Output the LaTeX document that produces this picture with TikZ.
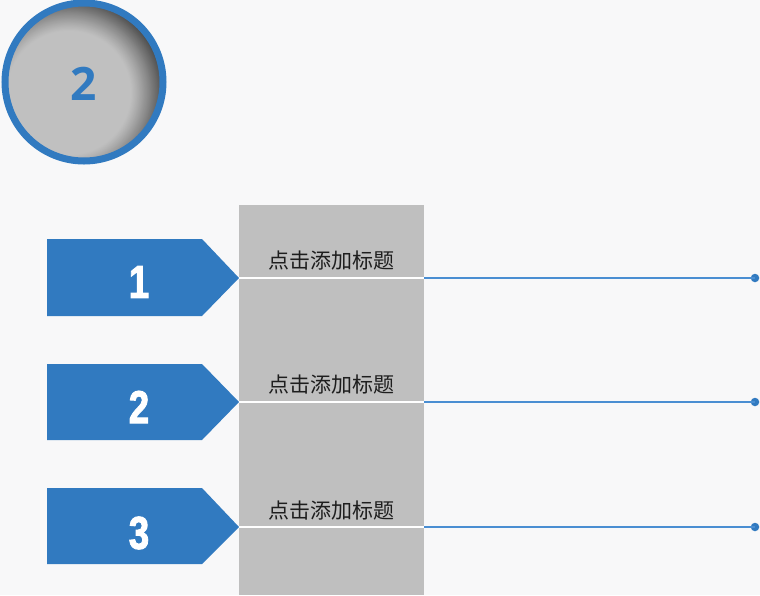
\documentclass[tikz,border=0pt]{standalone}
\usepackage{fontspec}
\setmainfont{Liberation Sans}
\newfontfamily\cjk{Noto Sans CJK SC}
\newfontfamily\numfont{Liberation Sans Bold}[FakeBold=2.2]
\newfontfamily\circfont{Open Sans}
\definecolor{bgc}{RGB}{248,248,249}
\definecolor{mainblue}{RGB}{49,122,192}
\definecolor{lineblue}{RGB}{74,142,210}
\definecolor{colgray}{RGB}{191,191,191}
\definecolor{ballgray}{RGB}{192,192,192}
\definecolor{shadowc}{RGB}{78,78,78}
\definecolor{txtc}{RGB}{30,30,30}
\tikzset{
  arrowbox/.style={fill=mainblue, draw=none},
  numlabel/.style={text=white, font=\numfont\fontsize{46}{46}\selectfont, inner sep=0pt},
  titlelabel/.style={text=txtc, font=\cjk\fontsize{21}{21}\selectfont, inner sep=0pt},
  sepline/.style={draw=white, line width=1.3pt},
  leadline/.style={draw=lineblue, line width=1.3pt},
  enddot/.style={circle, fill=mainblue, minimum size=8.5pt, inner sep=0pt},
}
\begin{document}
\begin{tikzpicture}[x=1pt,y=-1pt]
\useasboundingbox (0,0) rectangle (760,595);
\fill[bgc] (0,0) rectangle (760,595);
% ball
\begin{scope}
  \clip (84,82) circle (76);
  \fill[shadowc] (84,82) circle (76);
  \foreach \i in {0,...,60}{
    \pgfmathsetmacro\p{100*(1-\i/60)^1.15}
    \fill[shadowc!\p!ballgray] (69,93) circle ({95-\i*0.55});
  }
\end{scope}
\draw[mainblue, line width=7pt] (84,82) circle (79);
\node[text=mainblue, font=\circfont\bfseries\fontsize{46}{46}\selectfont, inner sep=0pt] (ballnum) at (84,84) {2};
% column
\fill[colgray] (239,205) rectangle (424,595);
\foreach \k/\yt/\yb/\ym/\ny/\ty in {1/239/316/278/282/261, 2/364/440/402/407/385, 3/488/564/527/533/511}{
  \fill[arrowbox] (47,\yt) -- (202,\yt) -- (239,\ym) -- (202,\yb) -- (47,\yb) -- cycle;
  \coordinate (tip\k) at (239,\ym);
  \coordinate (colr\k) at (424,\ym);
  \node[enddot] (dot\k) at (755,\ym) {};
  \node[numlabel] (num\k) at (139,\ny) {\scalebox{0.8}[1]{\k}};
  \node[titlelabel] (title\k) at (331,\ty) {点击添加标题};
  \draw[sepline] (tip\k) -- (colr\k);
  \draw[leadline] (colr\k) -- (dot\k.center);
}
\end{tikzpicture}
\end{document}
